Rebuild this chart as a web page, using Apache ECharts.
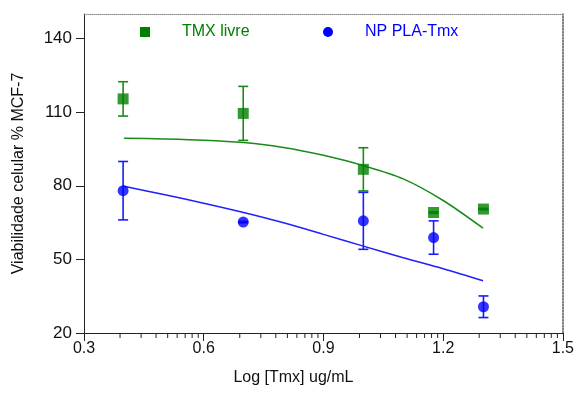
<!DOCTYPE html>
<html lang="pt">
<head>
  <meta charset="UTF-8" />
  <title>Viabilidade celular MCF-7</title>
  <script src="https://cdn.jsdelivr.net/npm/echarts@6/dist/echarts.min.js"></script>
  <style>
    html, body { margin: 0; padding: 0; background: #fff; }
    #chart { width: 577px; height: 394px; }
  </style>
</head>
<body>
  <div id="chart"></div>
  <script>
    // doses (log ug/mL)
    var doseX = [0.398, 0.699, 1.0, 1.176, 1.301];

    // TMX livre: mean and error
    var tmxMean = [115.4, 109.5, 86.7, 69.1, 70.5];
    var tmxErr  = [7.0, 11.0, 8.8, 0.3, 0.3];

    // NP PLA-Tmx: mean and error
    var npMean = [78.0, 65.2, 65.7, 58.9, 30.7];
    var npErr  = [11.9, 0.3, 11.6, 6.8, 4.4];

    // fitted curves
    var fitX   = [0.4, 0.5, 0.6, 0.7, 0.8, 0.9, 1.0, 1.1, 1.2, 1.3];
    var tmxFit = [99.4, 99.1, 98.6, 97.6, 95.6, 92.4, 88.2, 82.8, 74.0, 62.7];
    var npFit  = [79.8, 76.4, 72.9, 69.1, 64.9, 60.2, 55.4, 50.7, 46.2, 41.3];

    // axis ticks
    var xTicks = [0.3, 0.6, 0.9, 1.2, 1.5];
    var yTicks = [20, 50, 80, 110, 140];
    var minorSteps = [2, 3, 4, 5, 6, 7, 8, 9];

    var GREEN = "#008000";
    var BLUE = "#0000ff";
    var FONT = "Liberation Sans, Arial, sans-serif";

    function $_(id) {
      return document.getElementById(id);
    }

    function pairs(xs, ys) {
      return xs.map(function(x, i) { return [x, ys[i]]; });
    }

    function errData(means, errs) {
      return doseX.map(function(x, i) { return [x, means[i] - errs[i], means[i] + errs[i]]; });
    }

    // log style minor ticks between each pair of major ticks
    var minorTicks = [];
    for (var m = 0; m < xTicks.length - 1; m++) {
      minorSteps.forEach(function(k) {
        minorTicks.push([xTicks[m] + 0.3 * Math.log10(k)]);
      });
    }

    function errorBar(color) {
      return function(params, api) {
        var top = api.coord([api.value(0), api.value(2)]);
        var bot = api.coord([api.value(0), api.value(1)]);
        var w = 5;
        var style = { stroke: color, lineWidth: 1.6 };
        return {
          type: "group",
          children: [
            { type: "line", shape: { x1: top[0], y1: top[1], x2: bot[0], y2: bot[1] }, style: style },
            { type: "line", shape: { x1: top[0] - w, y1: top[1], x2: top[0] + w, y2: top[1] }, style: style },
            { type: "line", shape: { x1: bot[0] - w, y1: bot[1], x2: bot[0] + w, y2: bot[1] }, style: style }
          ]
        };
      };
    }

    var chart = echarts.init($_("chart"), null, { renderer: "canvas" });

    chart.setOption({
      animation: false,
      textStyle: { fontFamily: FONT },
      grid: { left: 84, right: 13, top: 14, bottom: 61 },
      xAxis: [{
        type: "value",
        min: 0.3,
        max: 1.5,
        name: "Log [Tmx] ug/mL",
        nameLocation: "middle",
        nameGap: 37,
        nameTextStyle: { fontSize: 16, color: "#111", padding: [0, 60, 0, 0] },
        axisLine: { lineStyle: { color: "#222", width: 1 } },
        axisTick: { customValues: xTicks, length: 8, lineStyle: { color: "#222", width: 1 } },
        axisLabel: {
          customValues: xTicks,
          margin: 8,
          fontSize: 16,
          color: "#111",
          formatter: function(v) { return v.toFixed(1); }
        },
        splitLine: { show: false }
      }, {
        type: "value",
        position: "top",
        min: 0.3,
        max: 1.5,
        axisLine: { lineStyle: { color: "#888", width: 1, type: "dotted" } },
        axisTick: { show: false },
        axisLabel: { show: false },
        splitLine: { show: false }
      }],
      yAxis: [{
        type: "value",
        min: 20,
        max: 150,
        name: "Viabilidade celular % MCF-7",
        nameLocation: "middle",
        nameGap: 57,
        nameTextStyle: { fontSize: 16, color: "#111" },
        axisLine: { lineStyle: { color: "#222", width: 1 } },
        axisTick: { customValues: yTicks, length: 8, lineStyle: { color: "#222", width: 1 } },
        axisLabel: { customValues: yTicks, margin: 12, fontSize: 17, color: "#111" },
        splitLine: { show: false }
      }, {
        type: "value",
        position: "right",
        min: 20,
        max: 150,
        axisLine: { lineStyle: { color: "#555", width: 1.5, type: "dotted" } },
        axisTick: { show: false },
        axisLabel: { show: false },
        splitLine: { show: false }
      }],
      graphic: [
        { type: "rect", left: 140, top: 27, shape: { width: 10, height: 10 }, style: { fill: GREEN } },
        { type: "text", left: 182, top: 24, style: { text: "TMX livre", fill: GREEN, font: "16px " + FONT } },
        { type: "circle", left: 323, top: 27, shape: { r: 5 }, style: { fill: BLUE } },
        { type: "text", left: 365, top: 24, style: { text: "NP PLA-Tmx", fill: BLUE, font: "16px " + FONT } }
      ],
      series: [
        {
          name: "minor ticks",
          type: "custom",
          silent: true,
          clip: false,
          data: minorTicks,
          renderItem: function(params, api) {
            var p = api.coord([api.value(0), 20]);
            return {
              type: "line",
              shape: { x1: p[0], y1: p[1], x2: p[0], y2: p[1] + 5 },
              style: { stroke: "#222", lineWidth: 1 }
            };
          }
        },
        {
          name: "TMX livre fit",
          type: "line",
          data: pairs(fitX, tmxFit),
          smooth: 0.3,
          showSymbol: false,
          lineStyle: { color: "#1a8a1a", width: 1.5 },
          z: 2
        },
        {
          name: "NP PLA-Tmx fit",
          type: "line",
          data: pairs(fitX, npFit),
          smooth: 0.3,
          showSymbol: false,
          lineStyle: { color: "#2020ff", width: 1.5 },
          z: 2
        },
        {
          name: "TMX livre err",
          type: "custom",
          data: errData(tmxMean, tmxErr),
          renderItem: errorBar("#1a8a1a"),
          z: 3
        },
        {
          name: "NP PLA-Tmx err",
          type: "custom",
          data: errData(npMean, npErr),
          renderItem: errorBar("#1a1aff"),
          z: 3
        },
        {
          name: "TMX livre",
          type: "scatter",
          data: pairs(doseX, tmxMean),
          symbol: "rect",
          symbolSize: 11,
          itemStyle: { color: GREEN },
          z: 4
        },
        {
          name: "NP PLA-Tmx",
          type: "scatter",
          data: pairs(doseX, npMean),
          symbol: "circle",
          symbolSize: 11,
          itemStyle: { color: BLUE },
          z: 4
        }
      ]
    });
  </script>
</body>
</html>
